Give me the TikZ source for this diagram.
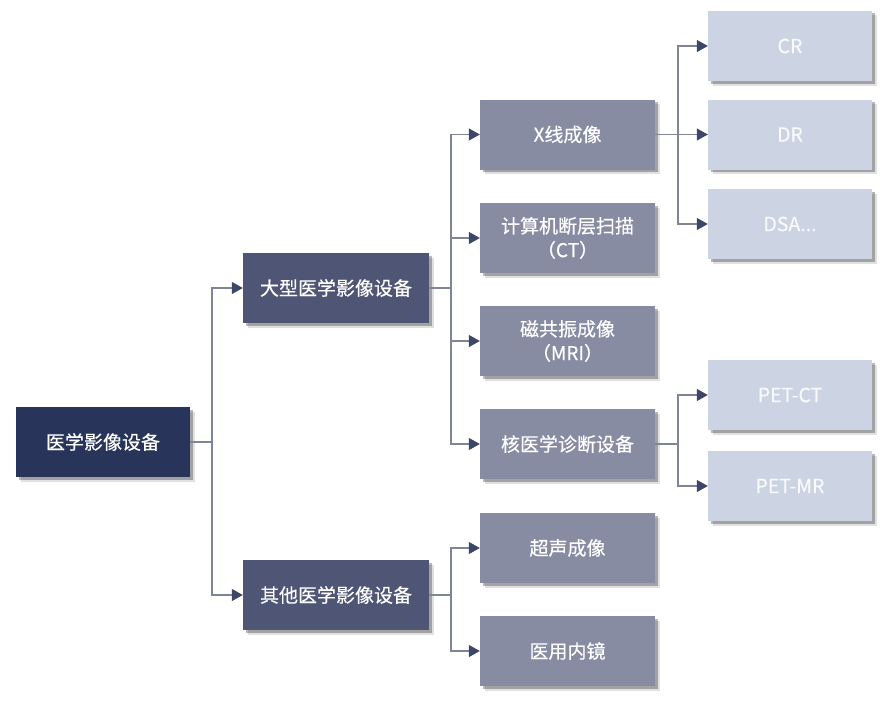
\documentclass[tikz,border=0pt]{standalone}
\usepackage{fontspec}
\setmainfont[FakeBold=0.35]{Noto Sans CJK SC}
\usetikzlibrary{arrows.meta,shadows}
\definecolor{rootblue}{HTML}{28345A}
\definecolor{midblue}{HTML}{4F5675}
\definecolor{softblue}{HTML}{878CA3}
\definecolor{paleblue}{HTML}{CCD3E2}
\definecolor{linegray}{HTML}{7F8496}
\definecolor{tipblue}{HTML}{3C4668}
\tikzset{
	basebox/.style={rectangle, minimum height=70pt, inner sep=0pt, align=center, text=white,
		font=\fontsize{19}{24}\selectfont,
		drop shadow={shadow xshift=4.5pt, shadow yshift=-4.5pt, fill=black, opacity=0.12},
		drop shadow={shadow xshift=2.5pt, shadow yshift=-2.5pt, fill=black, opacity=0.28}},
	rootbox/.style={basebox, fill=rootblue, minimum width=174pt},
	groupbox/.style={basebox, fill=midblue, minimum width=186pt},
	kindbox/.style={basebox, fill=softblue, minimum width=175pt},
	leafbox/.style={basebox, fill=paleblue, minimum width=164pt, text=white!88!paleblue, font=\fontsize{19.5}{24}\selectfont},
	stem/.style={linegray, line width=1.1pt},
	link/.style={linegray, line width=1.1pt, -{Triangle[length=11pt, width=12pt, color=tipblue]}}
}
\begin{document}
\begin{tikzpicture}[x=1pt, y=-1pt]
	\useasboundingbox (0,0) rectangle (880,701);
	
	% Root
	\node[rootbox] (root) at (103,442) {医学影像设备};
	
	% Groups
	\node[groupbox] (large) at (336,288) {大型医学影像设备};
	\node[groupbox] (other) at (336,595) {其他医学影像设备};
	
	% Kinds
	\node[kindbox] (xray) at (567.5,134.5) {X线成像};
	\node[kindbox] (ct) at (567.5,238) {计算机断层扫描\\（CT）};
	\node[kindbox] (mri) at (567.5,341) {磁共振成像\\（MRI）};
	\node[kindbox] (nuclear) at (567.5,444) {核医学诊断设备};
	\node[kindbox] (ultrasound) at (567.5,548) {超声成像};
	\node[kindbox] (endoscope) at (567.5,651) {医用内镜};
	
	% Leaves
	\node[leafbox] (cr) at (790,46) {CR};
	\node[leafbox] (dr) at (790,134.5) {DR};
	\node[leafbox] (dsa) at (790,224) {DSA...};
	\node[leafbox] (petct) at (790,395) {PET-CT};
	\node[leafbox] (petmr) at (790,486) {PET-MR};
	
	% Branch points
	\coordinate (rootbus) at (212,442);
	\coordinate (largebus) at (451,288);
	\coordinate (otherbus) at (451,595);
	\coordinate (xraybus) at (678,134.5);
	\coordinate (nuclearbus) at (678,444);
	
	% Connectors
	\draw[stem] (root.east) -- (rootbus);
	\draw[link] (rootbus) |- (large.west);
	\draw[link] (rootbus) |- (other.west);
	
	\draw[stem] (large.east) -- (largebus);
	\draw[link] (largebus) |- (xray.west);
	\draw[link] (largebus) |- (ct.west);
	\draw[link] (largebus) |- (mri.west);
	\draw[link] (largebus) |- (nuclear.west);
	
	\draw[stem] (other.east) -- (otherbus);
	\draw[link] (otherbus) |- (ultrasound.west);
	\draw[link] (otherbus) |- (endoscope.west);
	
	\draw[stem] (xray.east) -- (xraybus);
	\draw[link] (xraybus) |- (cr.west);
	\draw[link] (xraybus) -- (dr.west);
	\draw[link] (xraybus) |- (dsa.west);
	
	\draw[stem] (nuclear.east) -- (nuclearbus);
	\draw[link] (nuclearbus) |- (petct.west);
	\draw[link] (nuclearbus) |- (petmr.west);
	
\end{tikzpicture}
\end{document}
